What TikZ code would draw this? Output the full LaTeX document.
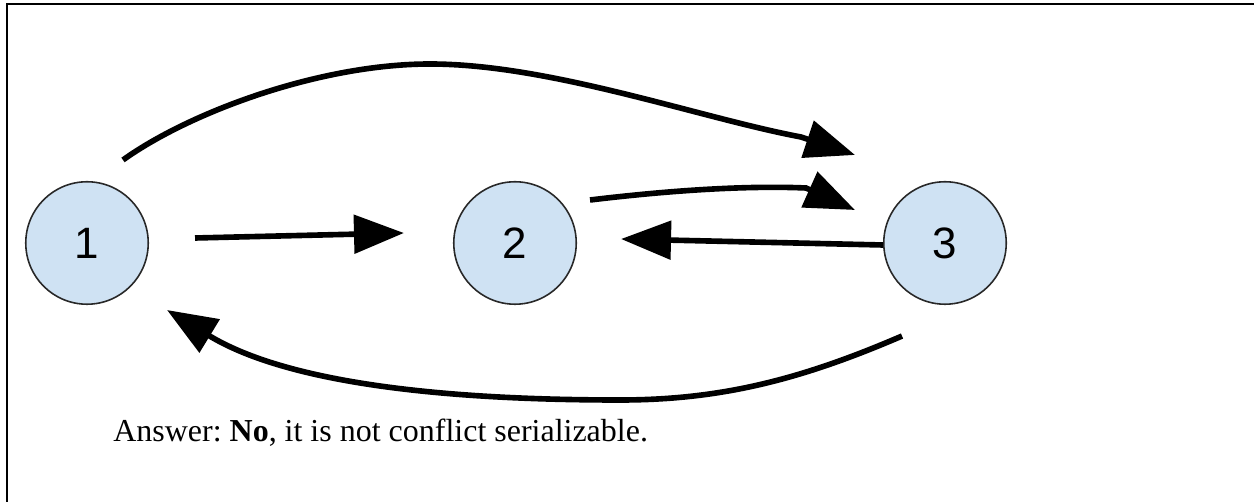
\documentclass[tikz,border=0pt]{standalone}
\usepackage{fontspec}
\setmainfont{Liberation Serif}
\setsansfont{Liberation Sans}
\usepackage{tikz}
\usetikzlibrary{arrows.meta}
\definecolor{AzulNodo}{RGB}{207,226,243}
\definecolor{GrisBorde}{RGB}{40,40,40}
\frenchspacing

\begin{document}
\begin{tikzpicture}[x=0.02cm,y=-0.02cm,
  nodo/.style={circle,draw=GrisBorde,line width=0.9pt,fill=AzulNodo,minimum size=2.45cm,inner sep=0pt,font=\sffamily\fontsize{25}{29}\selectfont},
  flecha/.style={-{Triangle[length=1cm,width=0.76cm]},line width=3.2pt}]
  \useasboundingbox (0,0) rectangle (1254,502);
  \draw[line width=1.5pt] (7,502) -- (7,4) -- (1254,4);
  \node[nodo] (n1) at (87,243) {1};
  \node[nodo] (n2) at (515,243) {2};
  \node[nodo] (n3) at (945,243) {3};
  \draw[flecha] ([shift={(46,-5)}]n1.east) -- ([shift={(-49,-10)}]n2.west);
  \draw[flecha] ([shift={(0,2)}]n3.west) -- ([shift={(44,-4)}]n2.east);
  \draw[flecha] ([shift={(13,-43)}]n2.east) .. controls (690,188) and (760,186) .. (806,188) -- ([shift={(-28,-33)}]n3.west);
  \draw[flecha] ([shift={(36,-21)}]n1.north) .. controls (190,112) and (320,64) .. (430,64) .. controls (550,64) and (700,118) .. (801,137) -- ([shift={(-90,-26)}]n3.north);
  \draw[flecha] ([shift={(-43,31)}]n3.south) .. controls (800,380) and (720,400) .. (620,400) .. controls (470,400) and (295,388) .. ([shift={(80,5)}]n1.south);
  \node[anchor=base west,inner sep=0pt,font=\fontsize{18.2}{22}\selectfont] (respuesta) at (113,442) {Answer: \textbf{No}, it is not conflict serializable.};
\end{tikzpicture}
\end{document}
